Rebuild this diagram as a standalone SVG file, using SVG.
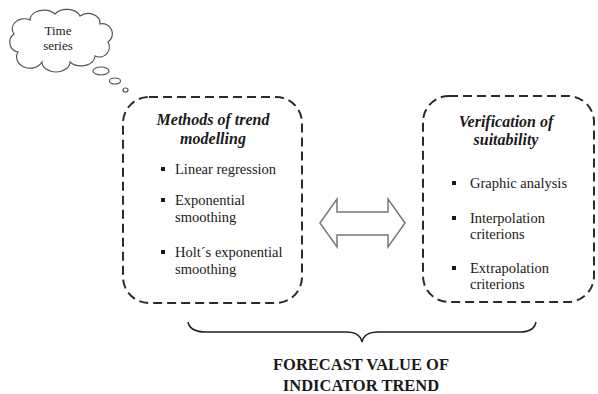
<svg xmlns="http://www.w3.org/2000/svg" width="598" height="394" viewBox="0 0 598 394">
<style>
.box{fill:none;stroke:#2a2a2a;stroke-width:2;stroke-dasharray:9 5}
.t{font-family:"Liberation Serif","Times New Roman","DejaVu Serif",serif;fill:#1a1a1a}
.h{font-size:16px;font-weight:bold;font-style:italic;text-anchor:middle}
.i{font-size:14.5px}
.c{font-size:13px;text-anchor:middle}
.f{font-size:16.5px;font-weight:bold;text-anchor:middle}
.b{fill:#1a1a1a}
</style>
<rect width="598" height="394" fill="#ffffff"/>
<g id="cloud">
<path d="M 18,52 A 10,10 0 0 1 14,34 A 12,10 0 0 1 30,20 A 14,10 0 0 1 55,14 A 14,10 0 0 1 80,16 A 12,10 0 0 1 100,24 A 10,10 0 0 1 108,42 A 10,10 0 0 1 95,56 A 14,10 0 0 1 70,62 A 14,10 0 0 1 42,62 A 12,10 0 0 1 18,52 Z" fill="#ffffff" stroke="#555" stroke-width="1.2"/>
<ellipse cx="101" cy="71" rx="8" ry="4" fill="none" stroke="#555" stroke-width="1.2"/>
<ellipse cx="115" cy="81" rx="5.5" ry="3" fill="none" stroke="#555" stroke-width="1.2"/>
<ellipse cx="125.5" cy="90" rx="2.5" ry="2" fill="none" stroke="#555" stroke-width="1.2"/>
<text class="t c" x="58" y="35">Time</text>
<text class="t c" x="58" y="50">series</text>
</g>
<g id="methods">
<rect class="box" x="123" y="97" width="179" height="206" rx="26" ry="26"/>
<text class="t h" x="213" y="125">Methods of trend</text>
<text class="t h" x="213" y="144">modelling</text>
<rect class="b" x="161" y="167" width="4" height="4"/>
<text class="t i" x="175" y="174">Linear regression</text>
<rect class="b" x="161" y="198" width="4" height="4"/>
<text class="t i" x="175" y="205">Exponential</text>
<text class="t i" x="175" y="222">smoothing</text>
<rect class="b" x="161" y="250" width="4" height="4"/>
<text class="t i" x="175" y="257">Holt´s exponential</text>
<text class="t i" x="175" y="274">smoothing</text>
</g>
<g id="verification">
<rect class="box" x="423" y="96" width="171" height="206" rx="26" ry="26"/>
<text class="t h" x="506" y="127">Verification of</text>
<text class="t h" x="506" y="145">suitability</text>
<rect class="b" x="452" y="181" width="4" height="4"/>
<text class="t i" x="470" y="188">Graphic analysis</text>
<rect class="b" x="452" y="216" width="4" height="4"/>
<text class="t i" x="470" y="223">Interpolation</text>
<text class="t i" x="470" y="239">criterions</text>
<rect class="b" x="452" y="266" width="4" height="4"/>
<text class="t i" x="470" y="273">Extrapolation</text>
<text class="t i" x="470" y="289">criterions</text>
</g>
<g id="connectors">
<polygon points="320,223 337,199 337,212 388,212 388,199 405,223 388,247 388,235 337,235 337,247" fill="#ffffff" stroke="#777" stroke-width="1.5" stroke-linejoin="miter"/>
<path d="M 188,322 Q 190,332 206,332 L 346,332 Q 360,332 362,342 Q 364,332 378,332 L 520,332 Q 534,332 536,322" fill="none" stroke="#222" stroke-width="1.5"/>
</g>
<g id="forecast">
<text class="t f" x="361" y="370">FORECAST VALUE OF</text>
<text class="t f" x="361" y="391">INDICATOR TREND</text>
</g>
</svg>
